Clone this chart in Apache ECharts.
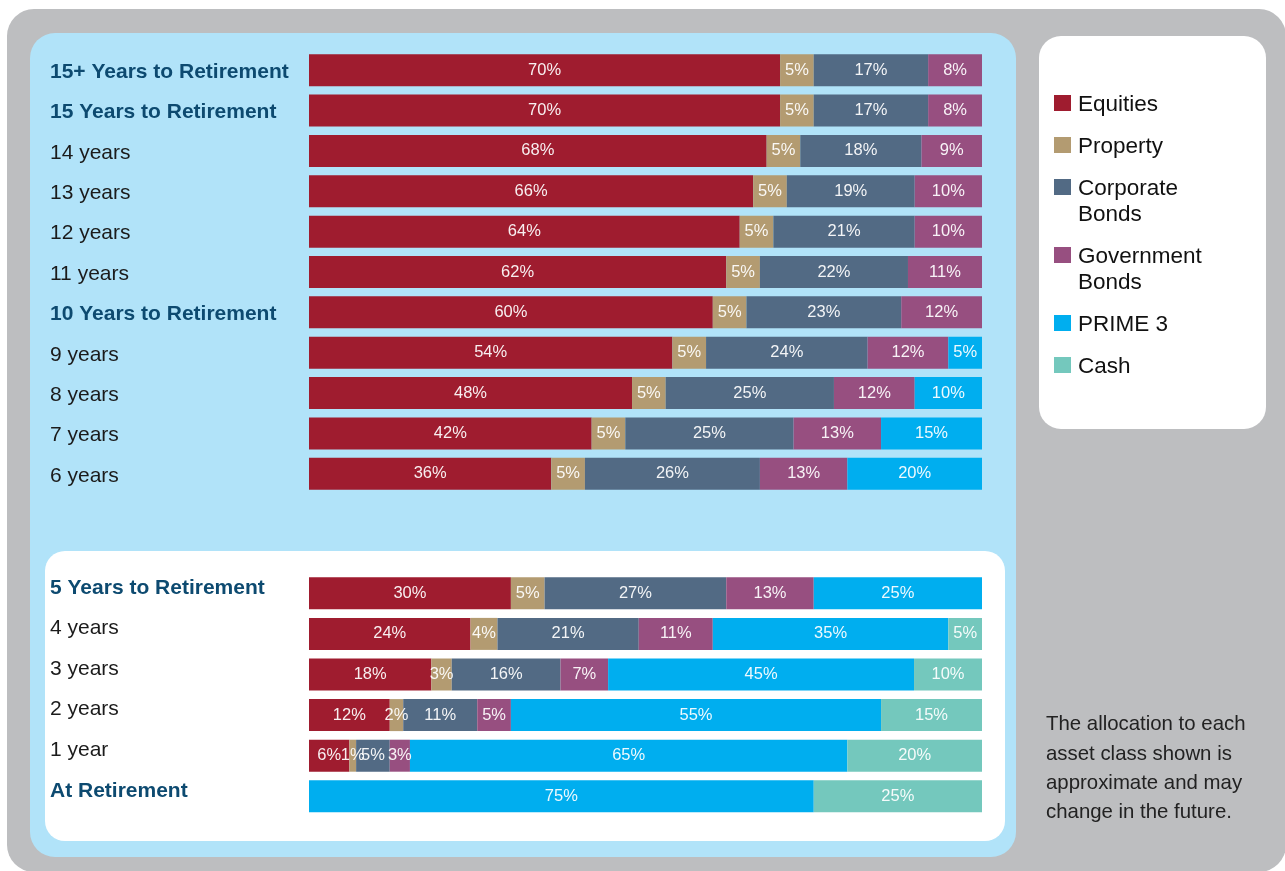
<!DOCTYPE html>
<html>
<head>
<meta charset="utf-8">
<script src="https://cdn.jsdelivr.net/npm/echarts@6/dist/echarts.min.js"></script>
<style>
html,body{margin:0;padding:0;background:#ffffff;}
#chart{width:1285px;height:871px;}
</style>
</head>
<body>
<div id="chart"></div>
<script>
// ---- Data ----
var categoriesTop = ['15+ Years to Retirement','15 Years to Retirement','14 years','13 years','12 years','11 years','10 Years to Retirement','9 years','8 years','7 years','6 years'];
var categoriesBottom = ['5 Years to Retirement','4 years','3 years','2 years','1 year','At Retirement'];
var boldCategories = ['15+ Years to Retirement','15 Years to Retirement','10 Years to Retirement','5 Years to Retirement','At Retirement'];

var seriesNames = ['Equities','Property','Corporate Bonds','Government Bonds','PRIME 3','Cash'];
var legendLabels = ['Equities','Property','Corporate\nBonds','Government\nBonds','PRIME 3','Cash'];

var equitiesTop   = [70,70,68,66,64,62,60,54,48,42,36];
var propertyTop   = [5,5,5,5,5,5,5,5,5,5,5];
var corporateTop  = [17,17,18,19,21,22,23,24,25,25,26];
var governmentTop = [8,8,9,10,10,11,12,12,12,13,13];
var prime3Top     = [0,0,0,0,0,0,0,5,10,15,20];
var cashTop       = [0,0,0,0,0,0,0,0,0,0,0];

var equitiesBottom   = [30,24,18,12,6,0];
var propertyBottom   = [5,4,3,2,1,0];
var corporateBottom  = [27,21,16,11,5,0];
var governmentBottom = [13,11,7,5,3,0];
var prime3Bottom     = [25,35,45,55,65,75];
var cashBottom       = [0,5,10,15,20,25];

var note = 'The allocation to each\nasset class shown is\napproximate and may\nchange in the future.';

// ---- Styling ----
var colors = ['#9f1c2f','#b39b71','#526a84','#974f80','#00aeef','#74c8bd'];
var FONT = "'Liberation Sans', Arial, Helvetica, sans-serif";
var topData = [equitiesTop, propertyTop, corporateTop, governmentTop, prime3Top, cashTop];
var bottomData = [equitiesBottom, propertyBottom, corporateBottom, governmentBottom, prime3Bottom, cashBottom];

function catFormatter(v){ return boldCategories.indexOf(v) >= 0 ? '{b|' + v + '}' : '{n|' + v + '}'; }
var richCat = {
  b: {fontFamily: FONT, fontSize: 21, fontWeight: 'bold', color: '#0d4a70'},
  n: {fontFamily: FONT, fontSize: 21, color: '#1b1b1b'}
};

// each row is a 100% stacked bar: shares are drawn relative to the row total
function rowTotals(sets){
  return sets[0].map(function(_, r){
    return sets.reduce(function(s, arr){ return s + arr[r]; }, 0);
  });
}

var series = [];
function addSeries(dataSets, gridIdx, stack){
  var totals = rowTotals(dataSets);
  dataSets.forEach(function(arr, i){
    series.push({
      name: seriesNames[i],
      type: 'bar',
      stack: stack,
      xAxisIndex: gridIdx,
      yAxisIndex: gridIdx,
      barWidth: 32,
      itemStyle: {color: colors[i]},
      label: {
        show: true,
        position: 'inside',
        color: 'rgba(255,255,255,0.93)',
        fontFamily: FONT,
        fontSize: 16.5,
        formatter: function(p){ return p.data.raw > 0 ? p.data.raw + '%' : ''; }
      },
      emphasis: {disabled: true},
      data: arr.map(function(v, r){ return {value: v / totals[r] * 100, raw: v}; })
    });
  });
}
addSeries(topData, 0, 'top');
addSeries(bottomData, 1, 'bottom');

var graphics = [
  {type: 'rect', z: -10, shape: {x: 7, y: 9, width: 1279, height: 863, r: 27}, style: {fill: '#bdbec0'}},
  {type: 'rect', z: -9, shape: {x: 30, y: 33, width: 986, height: 824, r: 25}, style: {fill: '#b1e3f9'}},
  {type: 'rect', z: -8, shape: {x: 45, y: 551, width: 960, height: 290, r: 20}, style: {fill: '#ffffff'}},
  {type: 'rect', z: -8, shape: {x: 1039, y: 36, width: 227, height: 393, r: 22}, style: {fill: '#ffffff'}},
  {type: 'text', z: 5, x: 1046, y: 710, style: {text: note, fontFamily: FONT, fontSize: 20.4, lineHeight: 29.3, fill: '#222222', verticalAlign: 'top'}}
];
var cy = 103;
legendLabels.forEach(function(lbl, i){
  var lines = lbl.split('\n').length;
  graphics.push({type: 'rect', z: 5, shape: {x: 1054, y: cy - 8, width: 17, height: 16}, style: {fill: colors[i]}});
  graphics.push({type: 'text', z: 5, x: 1078, y: cy - 11, style: {text: lbl, fontFamily: FONT, fontSize: 22.5, lineHeight: 26, fill: '#111111', verticalAlign: 'top'}});
  cy += lines * 26 + 16;
});

var option = {
  animation: false,
  backgroundColor: '#ffffff',
  textStyle: {fontFamily: FONT},
  graphic: graphics,
  grid: [
    {left: 309, width: 673, top: 50, height: 444},
    {left: 309, width: 673, top: 573, height: 243.6}
  ],
  xAxis: [
    {type: 'value', gridIndex: 0, min: 0, max: 100, show: false},
    {type: 'value', gridIndex: 1, min: 0, max: 100, show: false}
  ],
  yAxis: [
    {type: 'category', gridIndex: 0, inverse: true, data: categoriesTop,
     axisLine: {show: false}, axisTick: {show: false}, splitLine: {show: false},
     axisLabel: {interval: 0, margin: 259, align: 'left', padding: [4,0,0,0], formatter: catFormatter, rich: richCat}},
    {type: 'category', gridIndex: 1, inverse: true, data: categoriesBottom,
     axisLine: {show: false}, axisTick: {show: false}, splitLine: {show: false},
     axisLabel: {interval: 0, margin: 259, align: 'left', padding: [0,0,11,0], formatter: catFormatter, rich: richCat}}
  ],
  series: series
};
var chart = echarts.init(document.getElementById('chart'), null, {renderer: 'canvas'});
chart.setOption(option);
</script>
</body>
</html>
